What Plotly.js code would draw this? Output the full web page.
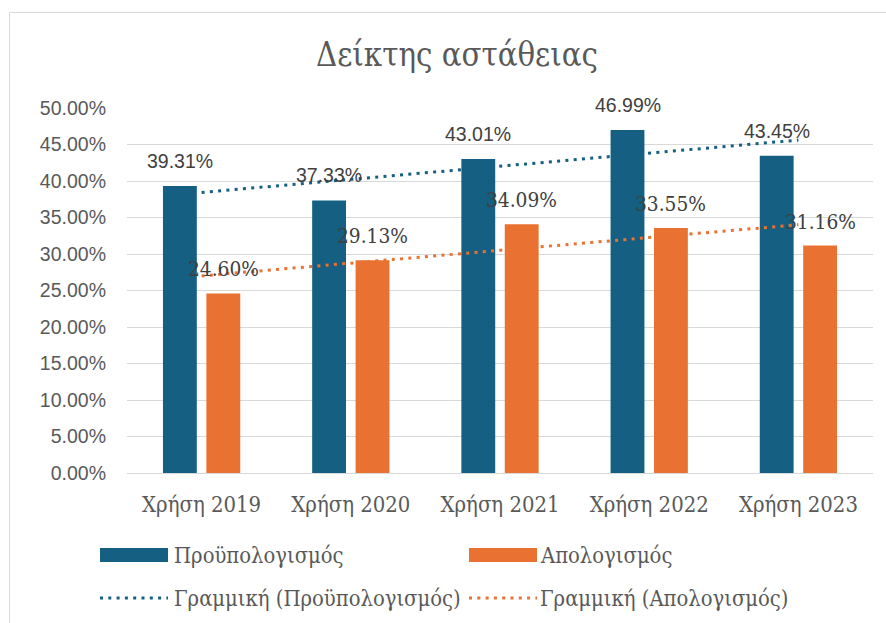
<!DOCTYPE html>
<html>
<head>
<meta charset="utf-8">
<script src="https://cdn.plot.ly/plotly-3.0.1.min.js"></script>
<style>
html,body{margin:0;padding:0;background:#fff;overflow:hidden;}
#chart{width:886px;height:623px;}
</style>
</head>
<body>
<div id="chart"></div>
<script>
// ---- data ----
const categories = ['Χρήση 2019', 'Χρήση 2020', 'Χρήση 2021', 'Χρήση 2022', 'Χρήση 2023'];
const budget = [0.3931, 0.3733, 0.4301, 0.4699, 0.4345];      // Προϋπολογισμός
const actual = [0.2460, 0.2913, 0.3409, 0.3355, 0.3116];      // Απολογισμός
const trendX = ['Χρήση 2019', 'Χρήση 2023'];
const trendBudget = [0.3843, 0.4561];
const trendActual = [0.2700, 0.3401];
const seriesNames = ['Προϋπολογισμός', 'Απολογισμός'];
const trendNames = ['Γραμμική (Προϋπολογισμός)', 'Γραμμική (Απολογισμός)'];
const yTicks = [0, 0.05, 0.10, 0.15, 0.20, 0.25, 0.30, 0.35, 0.40, 0.45, 0.50];

// ---- styling ----
const BLUE = '#156082', ORANGE = '#E97132';
const SANS = 'Liberation Sans, Arial, sans-serif';
const SERIF = 'DejaVu Serif Condensed, DejaVu Serif';
const W = 886, H = 623;
const M = {l: 127, r: 13, t: 108, b: 150};
const PW = W - M.l - M.r, PH = H - M.t - M.b;
const px = x => (x - M.l) / PW;
const py = y => (H - M.b - y) / PH;
const DOT = '3px,5.3px';

const traces = [
  {type: 'bar', name: seriesNames[0], x: categories, y: budget, marker: {color: BLUE}, showlegend: false, hoverinfo: 'skip'},
  {type: 'bar', name: seriesNames[1], x: categories, y: actual, marker: {color: ORANGE}, showlegend: false, hoverinfo: 'skip'},
  {type: 'scatter', mode: 'lines', name: trendNames[0], x: trendX, y: trendBudget, line: {color: BLUE, width: 3, dash: DOT}, showlegend: false, hoverinfo: 'skip'},
  {type: 'scatter', mode: 'lines', name: trendNames[1], x: trendX, y: trendActual, line: {color: ORANGE, width: 3, dash: DOT}, showlegend: false, hoverinfo: 'skip'}
];

const fmt = v => (v * 100).toFixed(2) + '%';
const annotations = [];
categories.forEach((c, i) => {
  annotations.push({x: c, y: budget[i], xref: 'x', yref: 'y', text: fmt(budget[i]), showarrow: false,
    xshift: -21.7, yshift: 25, yanchor: 'middle', font: {family: SANS, size: 19.5, color: '#404040'}});
  annotations.push({x: c, y: actual[i], xref: 'x', yref: 'y', text: fmt(actual[i]), showarrow: false,
    xshift: 21.7, yshift: 24, yanchor: 'middle', font: {family: SERIF, size: 20.7, color: '#404040'}});
});

// custom legend (Excel-style swatches)
const legendFont = {family: SERIF, size: 21.8, color: '#595959'};
const legendItems = [
  {kind: 'bar', color: BLUE, x: 100, y: 555, text: seriesNames[0], tx: 172},
  {kind: 'bar', color: ORANGE, x: 469, y: 555, text: seriesNames[1], tx: 538},
  {kind: 'line', color: BLUE, x: 100, y: 598, text: trendNames[0], tx: 172},
  {kind: 'line', color: ORANGE, x: 469, y: 598, text: trendNames[1], tx: 538}
];
const shapes = [
  {type: 'rect', xref: 'paper', yref: 'paper', x0: px(9.5), x1: px(920), y0: py(640), y1: py(12.5),
   line: {color: '#d9d9d9', width: 1}, fillcolor: 'rgba(0,0,0,0)', layer: 'below'}
];
legendItems.forEach(it => {
  if (it.kind === 'bar') {
    shapes.push({type: 'rect', xref: 'paper', yref: 'paper', x0: px(it.x), x1: px(it.x + 68),
      y0: py(it.y + 7), y1: py(it.y - 7), fillcolor: it.color, line: {width: 0}});
  } else {
    shapes.push({type: 'line', xref: 'paper', yref: 'paper', x0: px(it.x), x1: px(it.x + 68),
      y0: py(it.y), y1: py(it.y), line: {color: it.color, width: 3, dash: DOT}});
  }
  annotations.push({xref: 'paper', yref: 'paper', x: px(it.tx), y: py(it.y), text: it.text, showarrow: false,
    xanchor: 'left', yanchor: 'middle', font: legendFont});
});

const layout = {
  width: W, height: H,
  margin: M,
  paper_bgcolor: '#fff', plot_bgcolor: '#fff',
  title: {text: 'Δείκτης αστάθειας', x: 457 / W, xref: 'container', xanchor: 'center',
          y: 1 - 55 / H, yref: 'container', yanchor: 'middle',
          font: {family: SERIF, size: 32.6, color: '#595959'}},
  barmode: 'group', bargap: 0.418, bargroupgap: 0.22,
  showlegend: false,
  xaxis: {type: 'category', showgrid: false, showline: false, ticks: '', ticklabelstandoff: 16,
          tickfont: {family: SERIF, size: 21.9, color: '#595959'}},
  yaxis: {range: [0, 0.5], tickvals: yTicks, tickformat: '.2%', showgrid: true, gridcolor: '#d9d9d9', gridwidth: 1,
          zeroline: true, zerolinecolor: '#d9d9d9', zerolinewidth: 1, showline: false, ticks: '', ticklabelstandoff: 20,
          tickfont: {family: SANS, size: 19.5, color: '#595959'}},
  annotations: annotations,
  shapes: shapes
};

Plotly.newPlot('chart', traces, layout, {displayModeBar: false, staticPlot: true});
</script>
</body>
</html>
